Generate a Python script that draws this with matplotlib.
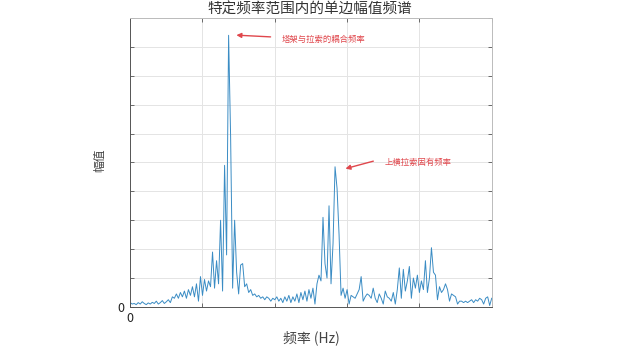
"""Single-sided amplitude spectrum in a given frequency band, with two annotated peaks."""
import matplotlib
matplotlib.use("Agg")
import matplotlib.pyplot as plt
import numpy as np

plt.rcParams["font.family"] = ["Noto Sans CJK SC", "DejaVu Sans"]

# amplitude, evenly spaced over the band (axis units 0..5)
amp = [
    0.15, 0.1, 0.12, 0.08, 0.15, 0.1, 0.18, 0.12, 0.08, 0.14,
    0.1, 0.16, 0.12, 0.2, 0.1, 0.15, 0.22, 0.12, 0.18, 0.25,
    0.15, 0.35, 0.3, 0.45, 0.3, 0.5, 0.35, 0.55, 0.3, 0.6,
    0.4, 0.7, 0.35, 0.8, 0.2, 1.05, 0.4, 0.95, 0.55, 0.9,
    0.7, 1.9, 0.65, 1.6, 0.8, 3.0, 0.55, 4.9, 1.8, 9.4,
    5.9, 0.65, 3.0, 1.2, 0.45, 1.45, 1.5, 0.7, 0.8, 0.5,
    0.6, 0.4, 0.45, 0.35, 0.4, 0.3, 0.35, 0.25, 0.35, 0.3,
    0.2, 0.3, 0.25, 0.35, 0.2, 0.3, 0.15, 0.35, 0.2, 0.4,
    0.15, 0.35, 0.2, 0.45, 0.15, 0.5, 0.25, 0.55, 0.2, 0.6,
    0.3, 0.65, 0.1, 0.8, 1.1, 0.9, 3.1, 1.5, 1.0, 3.5,
    0.8, 2.2, 4.85, 4.1, 2.5, 0.4, 0.65, 0.3, 0.6, 0.1,
    0.4, 0.35, 0.3, 0.45, 0.6, 1.05, 0.2, 0.35, 0.45, 0.4,
    0.3, 0.65, 0.3, 0.15, 0.45, 0.3, 0.1, 0.55, 0.35, 0.3,
    0.2, 0.5, 0.1, 0.6, 1.35, 0.3, 1.3, 0.55, 0.9, 1.4,
    0.3, 1.0, 0.65, 1.1, 0.5, 0.9, 0.6, 1.6, 0.5, 1.0,
    2.05, 1.2, 1.1, 0.25, 0.7, 0.5, 0.6, 0.8, 0.6, 0.2,
    0.45, 0.4, 0.35, 0.1, 0.2, 0.2, 0.15, 0.2, 0.15, 0.2,
    0.25, 0.15, 0.25, 0.2, 0.3, 0.25, 0.1, 0.3, 0.35, 0.05,
    0.3,
]
freq = np.linspace(0, 5, len(amp))

title = "特定频率范围内的单边幅值频谱"
xlabel = "频率 (Hz)"
ylabel = "幅值"
notes = [
    ("塔架与拉索的耦合频率", (1.43, 9.41), (1.98, 9.34)),
    ("上横拉索固有频率", (2.94, 4.76), (3.40, 5.07)),
]

fig = plt.figure(figsize=(6.32, 3.52), dpi=100)
ax = fig.add_axes([0.206, 0.128, 0.572, 0.821])
ax.plot(freq, amp, color="#3a8cc4", lw=0.7)

ax.set_xlim(0, 5)
ax.set_ylim(0, 10)
ax.set_xticks(np.arange(0, 6, 1))
ax.set_xticklabels(["0", "", "", "", "", ""])
ax.set_yticks(np.arange(0, 11, 1))
ax.set_yticklabels(["0"] + [""] * 10)
ax.tick_params(direction="in", length=3, width=0.6, color="#555555",
               labelsize=9, top=True, right=True, pad=4, labelcolor="#222222")
ax.grid(True, color="#e4e4e4", lw=0.7)
for side in ["left", "bottom"]:
    ax.spines[side].set_color("#555555")
    ax.spines[side].set_linewidth(0.7)
for side in ["top", "right"]:
    ax.spines[side].set_color("#bbbbbb")
    ax.spines[side].set_linewidth(0.7)

# titles placed by hand so they sit where the reference has them
fig.text(0.49, 0.972, title, fontsize=10.5, color="#333333", ha="center", va="center")
fig.text(0.492, 0.04, xlabel, fontsize=10, color="#444444", ha="center", va="center")
fig.text(0.158, 0.545, ylabel, fontsize=8.5, color="#444444", ha="center",
         va="center", rotation=90)

for text, tip, tail in notes:
    ax.annotate("", xy=tip, xytext=tail,
                arrowprops=dict(arrowstyle="-|>", color="#e0474c", lw=1.0,
                                mutation_scale=7))
    ax.text(tail[0] + 0.12, tail[1] - 0.08, text, fontsize=6, color="#e0474c",
            va="center", ha="left")

fig.savefig("out.png", dpi=100)
